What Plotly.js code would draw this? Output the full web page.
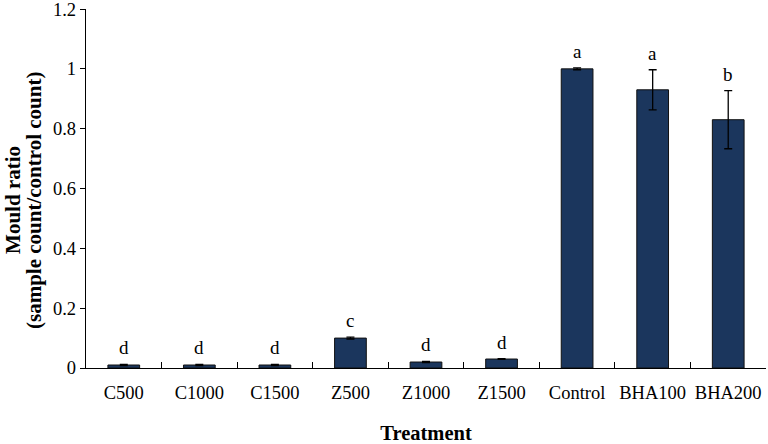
<!DOCTYPE html>
<html>
<head>
<meta charset="utf-8">
<script src="https://cdn.plot.ly/plotly-3.0.1.min.js"></script>
<style>html,body{margin:0;padding:0;background:#fff;}#chart{width:768px;height:444px;}</style>
</head>
<body>
<div id="chart"></div>
<script>
const categories = ["C500","C1000","C1500","Z500","Z1000","Z1500","Control","BHA100","BHA200"];
const values = [0.01, 0.01, 0.01, 0.10, 0.02, 0.03, 1.00, 0.93, 0.83];
const errors = [0.002, 0.002, 0.002, 0.003, 0.002, 0.001, 0.003, 0.067, 0.097];
const letters = ["d","d","d","c","d","d","a","a","b"];
const yTicks = [0, 0.2, 0.4, 0.6, 0.8, 1, 1.2];
const yTitleLines = ["<b>Mould ratio</b>", "<b>(sample count/control count)</b>"];
const xTitle = "<b>Treatment</b>";

const font = "Liberation Serif, Times New Roman, serif";

const trace = {
  type: "bar",
  x: categories,
  y: values,
  marker: {color: "#1b365d", line: {color: "#111", width: 1}},
  error_y: {type: "data", array: errors, visible: true, color: "#000", thickness: 1.3, width: 4},
  width: 0.42,
  hoverinfo: "none",
  cliponaxis: false
};

const annotations = categories.map((c, i) => ({
  x: c, y: values[i] + errors[i], xref: "x", yref: "y",
  text: letters[i], showarrow: false, yanchor: "bottom", yshift: 4,
  font: {family: font, size: 19, color: "#000"}
}));
const titleX = [-0.1075, -0.0765];
yTitleLines.forEach((t, i) => annotations.push({
  xref: "paper", yref: "paper", x: titleX[i], y: 0.468,
  text: t, textangle: -90, showarrow: false,
  xanchor: "center", yanchor: "middle", borderpad: 0,
  font: {family: font, size: 21, color: "#000"}
}));

const layout = {
  width: 768, height: 444,
  margin: {l: 86, r: 2, t: 9, b: 76},
  paper_bgcolor: "#fff", plot_bgcolor: "#fff",
  showlegend: false,
  font: {family: font, size: 18.5, color: "#000"},
  xaxis: {
    range: [-0.5, 8.5], type: "category",
    showline: true, linecolor: "#000", linewidth: 1.3,
    ticks: "inside", ticklen: 6, tickcolor: "#000", tickson: "boundaries",
    showgrid: false, zeroline: false,
    tickangle: 0,
    ticklabelstandoff: 7,
    tickfont: {family: font, size: 18.5, color: "#000"},
    title: {text: xTitle, font: {family: font, size: 20.5, color: "#000"}, standoff: 30}
  },
  yaxis: {
    range: [0, 1.2001], tickvals: yTicks, ticktext: yTicks.map(String),
    ticksuffix: "\u00a0\u00a0",
    showline: true, linecolor: "#000", linewidth: 1.3,
    ticks: "outside", ticklen: 5, tickcolor: "#000",
    showgrid: false, zeroline: false,
    ticklabeloverflow: "allow",
    tickfont: {family: font, size: 18.5, color: "#000"}
  },
  annotations: annotations
};

Plotly.newPlot("chart", [trace], layout, {displayModeBar: false, staticPlot: true});
</script>
</body>
</html>
